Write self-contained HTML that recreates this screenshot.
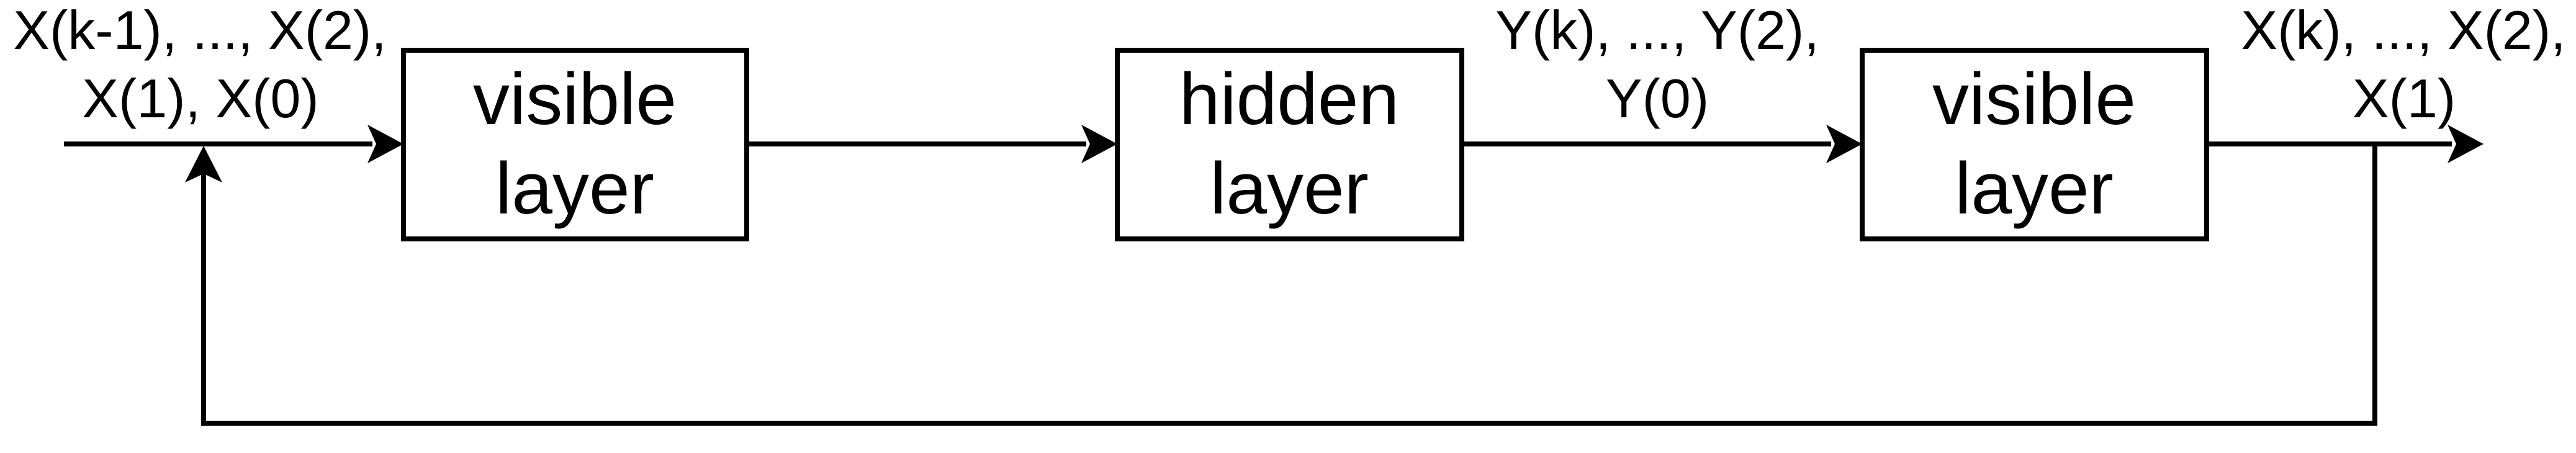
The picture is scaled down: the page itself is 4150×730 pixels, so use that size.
<!DOCTYPE html>
<html><head><style>html,body{margin:0;padding:0;background:#fff;}svg{display:block}</style></head>
<body>
<svg width="4150" height="730" viewBox="0 0 4150 730" xmlns="http://www.w3.org/2000/svg">
<g stroke="#000" stroke-width="8" fill="none">
<rect x="650" y="81" width="553" height="304"/>
<rect x="1800" y="81" width="555" height="304"/>
<rect x="3000" y="81" width="555" height="304"/>
<line x1="103" y1="232" x2="600" y2="232"/>
<line x1="1203" y1="232" x2="1750" y2="232"/>
<line x1="2355" y1="232" x2="2950" y2="232"/>
<line x1="3555" y1="232" x2="3950" y2="232"/>
<polyline points="3826,232 3826,682 328,682 328,280"/>
</g>
<g fill="#000">
<polygon points="650,232 592,201 606,232 592,263"/>
<polygon points="1800,232 1742,201 1756,232 1742,263"/>
<polygon points="3000,232 2942,201 2956,232 2942,263"/>
<polygon points="4001,232 3943,201 3957,232 3943,263"/>
<polygon points="328,235 298,294 328,280 358,294"/>
</g>
<g font-family="Liberation Sans, Arial, sans-serif" text-anchor="middle" fill="#000">
<text x="926" y="200" font-size="118">visible</text>
<text x="926" y="344" font-size="118">layer</text>
<text x="2077" y="200" font-size="118">hidden</text>
<text x="2077" y="344" font-size="118">layer</text>
<text x="3277" y="200" font-size="118">visible</text>
<text x="3277" y="344" font-size="118">layer</text>
<text x="322" y="79" font-size="88">X(k-1), ..., X(2),</text>
<text x="323" y="189" font-size="88">X(1), X(0)</text>
<text x="2670" y="79" font-size="88">Y(k), ..., Y(2),</text>
<text x="2670" y="189" font-size="88">Y(0)</text>
<text x="3872" y="79" font-size="88">X(k), ..., X(2),</text>
<text x="3873" y="189" font-size="88">X(1)</text>
</g>
</svg>
</body></html>
